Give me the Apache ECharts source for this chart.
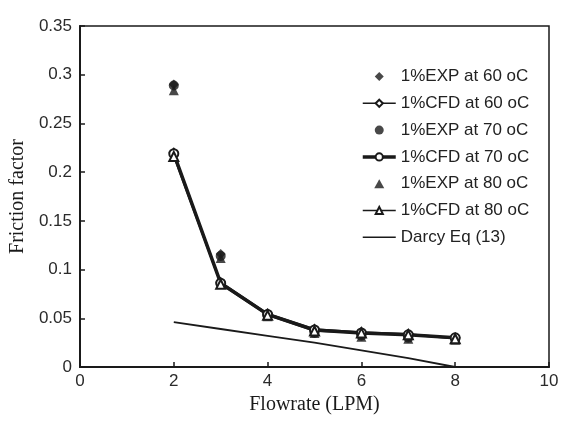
<!DOCTYPE html>
<html>
<head>
<meta charset="utf-8">
<script src="https://cdn.jsdelivr.net/npm/echarts@6/dist/echarts.min.js"></script>
<style>html,body{margin:0;padding:0;background:#fff;}#c{width:563px;height:421px;}</style>
</head>
<body>
<div id="c"></div>
<script>
var flow = [2, 3, 4, 5, 6, 7, 8];
var exp60 = [0.290, 0.116, 0.054, 0.036, 0.033, 0.031, 0.029];
var cfd60 = [0.220, 0.087, 0.055, 0.039, 0.036, 0.034, 0.030];
var exp70 = [0.289, 0.114, 0.053, 0.035, 0.032, 0.030, 0.029];
var cfd70 = [0.219, 0.086, 0.054, 0.038, 0.035, 0.033, 0.030];
var exp80 = [0.284, 0.112, 0.052, 0.035, 0.031, 0.029, 0.028];
var cfd80 = [0.216, 0.085, 0.053, 0.037, 0.035, 0.033, 0.029];
var darcy = [0.046, 0.039, 0.032, 0.025, 0.017, 0.009, 0.000];
var names = ['1%EXP at 60 oC', '1%CFD at 60 oC', '1%EXP at 70 oC', '1%CFD at 70 oC', '1%EXP at 80 oC', '1%CFD at 80 oC', 'Darcy Eq (13)'];

function pairs(ys) { return flow.map(function (x, i) { return [x, ys[i]]; }); }

var C = '#1a1a1a';
var SANS = 'Liberation Sans';
var SERIF = 'Liberation Serif';
var chart = echarts.init(document.getElementById('c'));
chart.setOption({
  animation: false,
  backgroundColor: '#fff',
  grid: { left: 78, right: 14, top: 26, bottom: 54, show: true, borderColor: C, borderWidth: 1.5, backgroundColor: 'transparent' },
  xAxis: {
    type: 'value', min: 0, max: 10, interval: 2,
    name: 'Flowrate (LPM)', nameLocation: 'middle', nameGap: 27,
    nameTextStyle: { fontFamily: SERIF, fontSize: 20, color: C, verticalAlign: 'top' },
    axisLine: { lineStyle: { color: C, width: 2 } },
    axisTick: { inside: true, length: 5, lineStyle: { color: C, width: 1.5 } },
    axisLabel: { fontFamily: SANS, fontSize: 17, color: '#2a2a2a', margin: 6 },
    splitLine: { show: false }
  },
  yAxis: {
    type: 'value', min: 0, max: 0.35, interval: 0.05,
    name: 'Friction factor', nameLocation: 'middle', nameGap: 43,
    nameTextStyle: { fontFamily: SERIF, fontSize: 20, color: C },
    axisLine: { lineStyle: { color: C, width: 2 } },
    axisTick: { inside: true, length: 5, lineStyle: { color: C, width: 1.5 } },
    axisLabel: { fontFamily: SANS, fontSize: 17, color: '#2a2a2a', margin: 8 },
    splitLine: { show: false }
  },
  legend: {
    orient: 'vertical', left: 356, top: 63, padding: 5, itemWidth: 33, itemHeight: 9, itemGap: 9.8,
    textStyle: { fontFamily: SANS, fontSize: 17, lineHeight: 17, color: '#222' },
    data: [
      { name: names[0], icon: 'path://M5,0L10,5L5,10L0,5Z' },
      { name: names[1], lineStyle: { width: 1.5 } },
      { name: names[2], icon: 'circle' },
      { name: names[3], lineStyle: { width: 3.5 } },
      { name: names[4], icon: 'path://M5,0L10,9L0,9Z' },
      { name: names[5], lineStyle: { width: 1.5 } },
      { name: names[6], icon: 'path://M0,0h36v1.6h-36z' }
    ]
  },
  series: [
    { name: names[0], type: 'scatter', data: pairs(exp60), symbol: 'diamond', symbolSize: 10, itemStyle: { color: C } },
    { name: names[1], type: 'line', data: pairs(cfd60), symbol: 'emptyDiamond', symbolSize: 8, lineStyle: { color: C, width: 1.5 }, itemStyle: { color: C, borderWidth: 1.2 } },
    { name: names[2], type: 'scatter', data: pairs(exp70), symbol: 'circle', symbolSize: 10, itemStyle: { color: C } },
    { name: names[3], type: 'line', data: pairs(cfd70), symbol: 'emptyCircle', symbolSize: 9, lineStyle: { color: C, width: 3.5 }, itemStyle: { color: C, borderWidth: 1.5 } },
    { name: names[4], type: 'scatter', data: pairs(exp80), symbol: 'triangle', symbolSize: 10, itemStyle: { color: C } },
    { name: names[5], type: 'line', data: pairs(cfd80), symbol: 'emptyTriangle', symbolSize: 9, lineStyle: { color: C, width: 1.5 }, itemStyle: { color: C, borderWidth: 1.2 } },
    { name: names[6], type: 'line', data: pairs(darcy), symbol: 'none', showSymbol: false, lineStyle: { color: C, width: 1.8 }, itemStyle: { color: C } }
  ]
});
</script>
</body>
</html>
